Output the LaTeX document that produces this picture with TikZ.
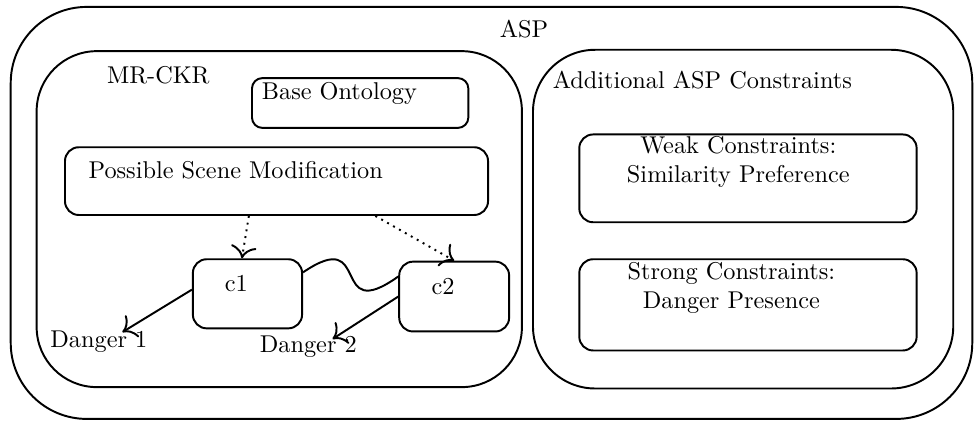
\documentclass[tikz,border=0pt]{standalone}
\usetikzlibrary{arrows.meta}

\begin{document}
\begin{tikzpicture}[style=thick,
    >={To[scale=1.5]},
    bigbox/.style={draw, rounded corners=#1, inner sep=0pt},
    smallbox/.style={draw, rounded corners=0.2cm, inner sep=0pt},
    lbl/.style={inner sep=1pt, align=center}]
    \useasboundingbox (0cm,0cm) rectangle (14.09cm,6.08cm);

% ASP
    \node[bigbox=1.1cm, minimum width=13.91cm, minimum height=5.96cm] (asp) at (7.11cm,3.00cm) {};
    \node[lbl] (asplbl) at (7.58cm,5.66cm) {ASP};

% MR-CKR
    \node[bigbox=0.87cm, minimum width=7.02cm, minimum height=4.86cm] (mrckr) at (4.04cm,2.91cm) {};
    \node[lbl] (mrckrlbl) at (2.29cm,4.99cm) {MR-CKR};

    \node[smallbox, rounded corners=0.15cm, minimum width=3.13cm, minimum height=0.72cm] (base) at (5.21cm,4.59cm) {};
    \node[lbl] (baselbl) at (4.91cm,4.73cm) {Base Ontology};

    \node[smallbox, minimum width=6.12cm, minimum height=0.98cm] (psm) at (4.00cm,3.46cm) {};
    \node[lbl] (psmlbl) at (3.41cm,3.62cm) {Possible Scene Modification};

    \node[smallbox, minimum width=1.58cm, minimum height=1.00cm] (c1) at (3.58cm,1.83cm) {};
    \node[lbl] (c1lbl) at (3.42cm,1.98cm) {c1};
    \node[smallbox, minimum width=1.59cm, minimum height=1.01cm] (c2) at (6.57cm,1.79cm) {};
    \node[lbl] (c2lbl) at (6.41cm,1.94cm) {c2};

    \node[lbl] (d1) at (1.43cm,1.13cm) {Danger 1};
    \node[lbl] (d2) at (4.46cm,1.06cm) {Danger 2};

    \draw[dotted,->] ([xshift=-0.40cm]psm.south) -- ([xshift=-0.08cm]c1.north);
    \draw[dotted,->] ([xshift=1.43cm]psm.south) -- (c2.north);
    \draw ([yshift=0.31cm]c1.east) .. controls +(1.01cm,0.69cm) and +(-1.01cm,-0.72cm) .. ([yshift=0.29cm]c2.west);
    \draw[->] ([yshift=0.06cm]c1.west) -- ([xshift=0.34cm,yshift=-0.06cm]d1.north);
    \draw[->] (c2.west) -- ([xshift=0.35cm,yshift=-0.09cm]d2.north);

% Additional ASP Constraints
    \node[bigbox=0.9cm, minimum width=6.08cm, minimum height=4.90cm] (extra) at (10.75cm,2.91cm) {};
    \node[lbl] (extralbl) at (10.16cm,4.92cm) {Additional ASP Constraints};

    \node[smallbox, minimum width=4.88cm, minimum height=1.27cm] (weak) at (10.82cm,3.50cm) {};
    \node[lbl] (weaklbl) at (10.68cm,3.74cm) {Weak Constraints:\\Similarity Preference};

    \node[smallbox, minimum width=4.88cm, minimum height=1.32cm] (strong) at (10.82cm,1.67cm) {};
    \node[lbl] (stronglbl) at (10.58cm,1.92cm) {Strong Constraints:\\Danger Presence};

\end{tikzpicture}
\end{document}
